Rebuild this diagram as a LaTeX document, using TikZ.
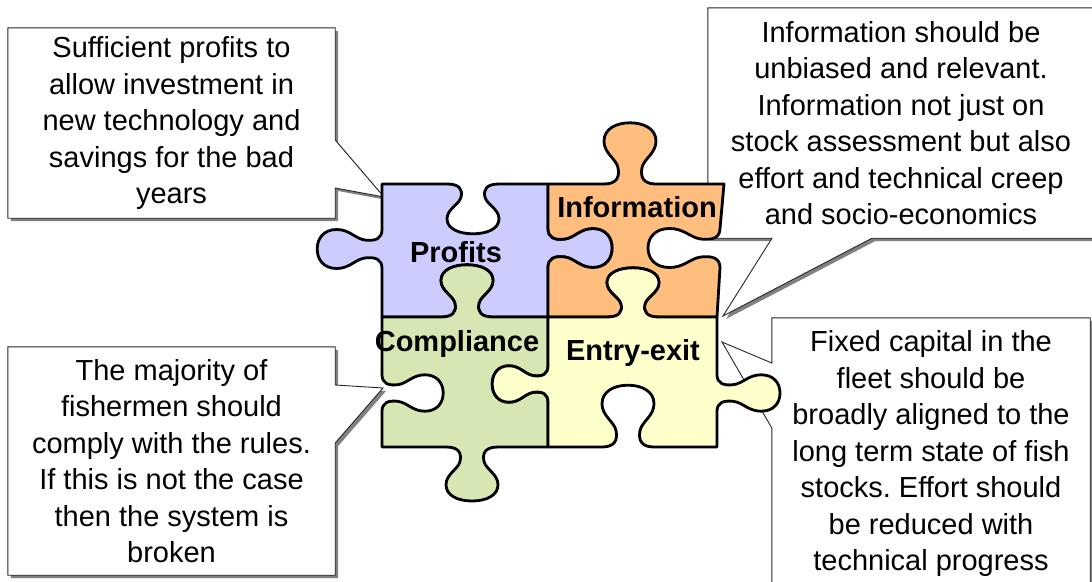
\documentclass[tikz,border=0pt]{standalone}
\usepackage{fontspec}
\setmainfont{Liberation Sans}
\usepackage{tikz}
\usetikzlibrary{shadows,backgrounds}
\frenchspacing

\definecolor{profitsblue}{RGB}{204,204,255}
\definecolor{infoorange}{RGB}{255,190,125}
\definecolor{compgreen}{RGB}{215,231,180}
\definecolor{entryyellow}{RGB}{255,255,204}

\newcommand{\knob}[5]{%
  {[shift={(#1,#2)},rotate=#3,xscale=#5,yscale=#4]
   -- (-26,0) .. controls (-14,0) and (-10,6) .. (-12,16)
   .. controls (-14,25) and (-26,30) .. (-26,42)
   .. controls (-26,54) and (-14,60) .. (0,60)
   .. controls (14,60) and (26,54) .. (26,42)
   .. controls (26,30) and (14,25) .. (12,16)
   .. controls (10,6) and (14,0) .. (26,0)}}

\begin{document}
\begin{tikzpicture}[
  x=1pt,y=-1pt,
  note/.style={draw=black!85,fill=white,line width=0.9pt,
               drop shadow={shadow xshift=3pt,shadow yshift=-3pt,fill=black!50,opacity=1}},
  notetext/.style={align=center,inner sep=0pt,font=\fontsize{29}{36.5}\selectfont},
  piece/.style={draw=black,line width=2.8pt,line join=round},
  tag/.style={font=\fontsize{29}{35}\selectfont\bfseries}
]
\useasboundingbox (0,0) rectangle (1092,581);

\node[notetext,minimum width=327pt,minimum height=190pt] (profitsnote) at (171.5,123)
  {Sufficient profits to\\allow investment in\\new technology and\\savings for the bad\\years};
\node[notetext,minimum width=386pt,minimum height=230pt] (infonote) at (901,123)
  {Information should be\\unbiased and relevant.\\Information not just on\\stock assessment but also\\effort and technical creep\\and socio-economics};
\node[notetext,minimum width=327pt,minimum height=228pt] (compnote) at (171.5,461)
  {The majority of\\fishermen should\\comply with the rules.\\If this is not the case\\then the system is\\broken};
\node[notetext,minimum width=318pt,minimum height=271pt] (entrynote) at (931,453.5)
  {Fixed capital in the\\fleet should be\\broadly aligned to the\\long term state of fish\\stocks. Effort should\\be reduced with\\technical progress};

\coordinate (tipprofits) at (384,197);
\coordinate (tipinfo) at (723,316);
\coordinate (tipcomp) at (383,388);
\coordinate (tipentry) at (722,342);

\begin{scope}[on background layer]
\fill[white] (0,0) rectangle (1092,581);
\draw[note] (profitsnote.north west) -- (profitsnote.north east) -- (profitsnote.east |- 0,140)
  -- (tipprofits) -- (profitsnote.east |- 0,188) -- (profitsnote.south east) -- (profitsnote.south west) -- cycle;
\draw[note] (infonote.north west) -- (infonote.north east) -- (infonote.south east) -- (872,0 |- infonote.south)
  -- (tipinfo) -- (772,0 |- infonote.south) -- (infonote.south west) -- cycle;
\draw[note] (compnote.north west) -- (compnote.north east) -- (compnote.east |- 0,385)
  -- (tipcomp) -- (compnote.east |- 0,443) -- (compnote.south east) -- (compnote.south west) -- cycle;
\draw[note] (entrynote.north west) -- (entrynote.north east) -- (entrynote.south east) -- (entrynote.south west)
  -- (entrynote.west |- 0,428) -- (tipentry) -- (entrynote.west |- 0,363) -- cycle;
\end{scope}

\path[piece,fill=profitsblue] (382,184) \knob{473}{184}{0}{0.83}{1} -- (548,184)
  \knob{548}{248}{-90}{-1.07}{0.75} -- (548,317) \knob{467}{317}{180}{0.87}{1} -- (382,317)
  \knob{382}{249}{90}{-1.08}{0.75} -- cycle;
\path[piece,fill=infoorange] (548,184) \knob{630}{184}{0}{-1.02}{1} -- (724,184)
  \knob{720}{248}{-90}{1.2}{0.75} -- (717,317) \knob{633}{317}{180}{0.82}{1} -- (548,317)
  \knob{548}{248}{90}{1.07}{0.75} -- cycle;
\path[piece,fill=compgreen] (382,317) \knob{467}{317}{0}{-0.87}{1} -- (548,317)
  \knob{548}{384}{-90}{0.93}{0.7} -- (548,447) \knob{472}{447}{180}{-0.9}{1} -- (382,447)
  \knob{382}{393}{90}{1.02}{0.7} -- cycle;
\path[piece,fill=entryyellow] (548,317) \knob{633}{317}{0}{-0.82}{1} -- (717,317)
  \knob{717}{393}{-90}{-1.05}{0.7} -- (717,447) \knob{628}{447}{180}{1.03}{1} -- (548,447)
  \knob{548}{384}{90}{-0.93}{0.7} -- cycle;

\node[tag] (profits) at (456,252) {Profits};
\node[tag] (information) at (637,207) {Information};
\node[tag] (compliance) at (457,344) {Compliance};
\node[tag] (entryexit) at (633,353) {Entry-exit};
\end{tikzpicture}
\end{document}
